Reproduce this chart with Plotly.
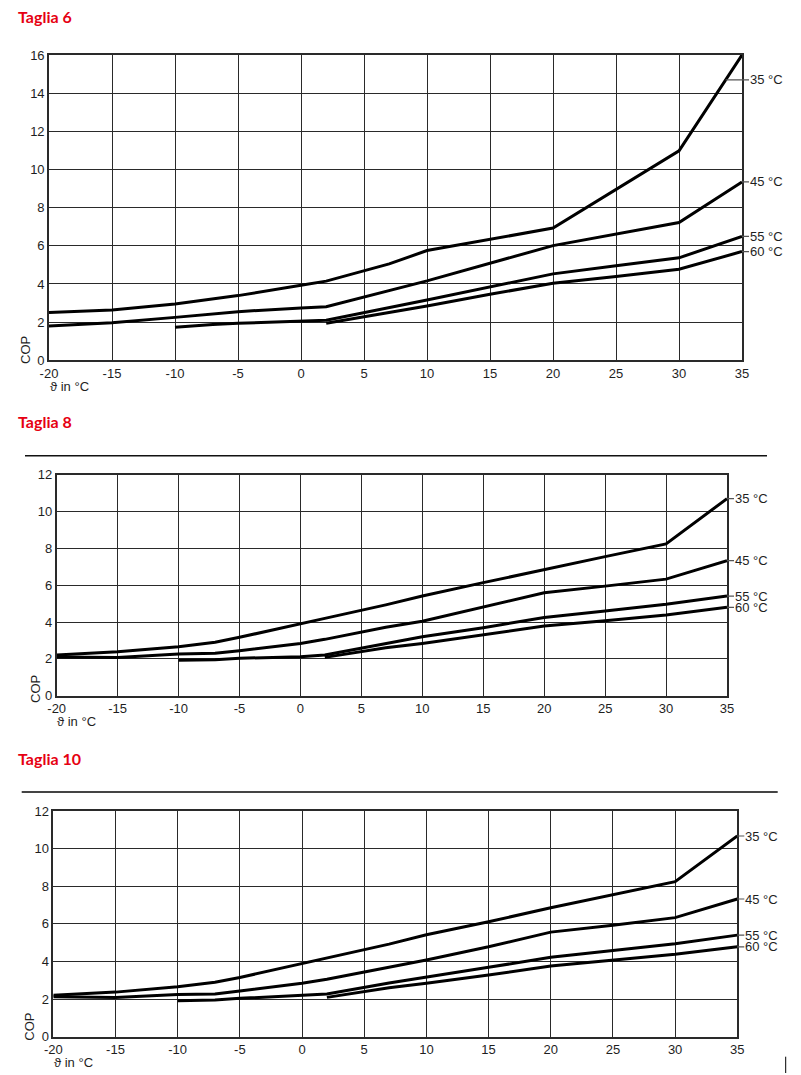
import numpy as np
import plotly.graph_objects as go

# ---------------- data ----------------
x_long = [-20, -15, -10, -7, -5, 0, 2, 7, 10, 15, 20, 25, 30, 35]
x_55 = [-10, -7, -5, 0, 2, 7, 10, 15, 20, 25, 30, 35]
x_60 = [2, 7, 10, 15, 20, 25, 30, 35]

# Taglia 6
t6_x35 = [-20, -15, -10, -7, -5, 0, 2, 7, 10, 20, 30, 35]
t6_35 = [2.5, 2.64, 2.95, 3.2, 3.39, 3.93, 4.15, 5.05, 5.75, 6.93, 10.98, 16.0]
t6_x45 = [-20, -15, -10, -7, -5, 0, 2, 10, 15, 20, 30, 35]
t6_45 = [1.8, 1.97, 2.25, 2.45, 2.55, 2.74, 2.81, 4.16, 5.09, 6.01, 7.22, 9.35]
t6_x55 = [-10, -7, -5, 0, 2, 10, 15, 20, 25, 30, 35]
t6_55 = [1.73, 1.88, 1.94, 2.05, 2.1, 3.16, 3.86, 4.53, 4.95, 5.37, 6.49]
t6_x60 = [2, 10, 15, 20, 25, 30, 35]
t6_60 = [1.94, 2.85, 3.46, 4.04, 4.39, 4.77, 5.7]

# Taglia 8
t8_35 = [2.21, 2.39, 2.66, 2.9, 3.17, 3.93, 4.2, 4.93, 5.41, 6.14, 6.86, 7.55, 8.24, 10.7]
t8_45 = [2.1, 2.08, 2.26, 2.3, 2.44, 2.84, 3.06, 3.72, 4.04, 4.8, 5.59, 5.95, 6.33, 7.33]
t8_55 = [1.92, 1.95, 2.03, 2.12, 2.21, 2.85, 3.2, 3.69, 4.25, 4.6, 4.96, 5.41]
t8_60 = [2.08, 2.6, 2.84, 3.29, 3.78, 4.07, 4.38, 4.8]

# Taglia 10
t10_35 = [2.2, 2.37, 2.66, 2.89, 3.15, 3.9, 4.18, 4.92, 5.42, 6.11, 6.86, 7.53, 8.24, 10.67]
t10_45 = [2.13, 2.08, 2.25, 2.27, 2.43, 2.84, 3.05, 3.7, 4.08, 4.78, 5.56, 5.92, 6.33, 7.32]
t10_55 = [1.91, 1.95, 2.04, 2.18, 2.27, 2.85, 3.15, 3.69, 4.22, 4.57, 4.94, 5.4]
t10_60 = [2.09, 2.6, 2.84, 3.28, 3.76, 4.08, 4.38, 4.78]

series_names = ["35 °C", "45 °C", "55 °C", "60 °C"]
titles = ["Taglia 6", "Taglia 8", "Taglia 10"]
x_label = "ϑ in °C"
y_label = "COP"
x_tickvals = [-20, -15, -10, -5, 0, 5, 10, 15, 20, 25, 30, 35]
x_ticktext = ["-20", "-15", "-10", "-5", "0", "5", "10", "15", "20", "25", "30", "35"]

charts = [
    dict(title=titles[0], xs=[t6_x35, t6_x45, t6_x55, t6_x60], ys=[t6_35, t6_45, t6_55, t6_60],
         ymax=16, px=(49, 742), py=(55, 360.3), title_y=16, xl=(47.7, 386.7), cop=(25, 350),
         label35_y=14.7),
    dict(title=titles[1], xs=[x_long, x_long, x_55, x_60], ys=[t8_35, t8_45, t8_55, t8_60],
         ymax=12, px=(56.7, 727), py=(474.7, 695.7), title_y=421.7, xl=(55, 721.7), cop=(35, 689),
         label35_y=None),
    dict(title=titles[2], xs=[x_long, x_long, x_55, x_60], ys=[t10_35, t10_45, t10_55, t10_60],
         ymax=12, px=(53.3, 737.3), py=(811, 1036.7), title_y=758, xl=(52, 1062), cop=(30, 1026.7),
         label35_y=None),
]

W, H = 801, 1075
fx = lambda p: p / W
fy = lambda p: 1 - p / H

fig = go.Figure()
FONT = "Liberation Sans, Arial, sans-serif"
INK = "#1e1e1e"
annotations = []
shapes = []
layout_axes = {}

for i, c in enumerate(charts):
    n = "" if i == 0 else str(i + 1)
    xa, ya = "x" + n, "y" + n
    for xs, ys, name in zip(c["xs"], c["ys"], series_names):
        fig.add_trace(go.Scatter(x=xs, y=ys, mode="lines", name=name, xaxis=xa, yaxis=ya,
                                 line=dict(color="#000000", width=3), showlegend=False,
                                 hoverinfo="skip"))
        # curve label with short leader
        if name == "35 °C" and c["label35_y"] is not None:
            ly = c["label35_y"]
            hx = float(np.interp(ly, ys[-2:], xs[-2:]))
            ppu = (c["px"][1] - c["px"][0]) / 55.0
            axoff = (35 - hx) * ppu + 7
        else:
            ly = ys[-1]
            hx = xs[-1]
            axoff = 7
        annotations.append(dict(x=hx, y=ly, xref=xa, yref=ya, text=name, showarrow=True,
                                arrowhead=0, arrowwidth=1.2, arrowcolor="#555555", ax=axoff, ay=0,
                                standoff=0, xanchor="left", yanchor="middle", borderpad=0,
                                font=dict(family=FONT, size=13, color=INK)))
    axis_common = dict(showgrid=True, gridcolor="#2a2a2a", gridwidth=1.3, showline=True,
                       linecolor="#2a2a2a", linewidth=1.6, mirror=True, zeroline=False,
                       ticks="", fixedrange=True, automargin=False,
                       tickfont=dict(family=FONT, size=13, color=INK))
    layout_axes["xaxis" + n] = dict(axis_common, domain=[fx(c["px"][0]), fx(c["px"][1])],
                                    range=[-20, 35], tickmode="array", tickvals=x_tickvals,
                                    ticktext=x_ticktext, anchor=ya)
    layout_axes["yaxis" + n] = dict(axis_common, domain=[fy(c["py"][1]), fy(c["py"][0])],
                                    range=[0, c["ymax"]], tick0=0, dtick=2, anchor=xa)
    annotations.append(dict(x=fx(16), y=fy(c["title_y"]), xref="paper", yref="paper",
                            text="<b>" + c["title"] + "</b>", showarrow=False, xanchor="left",
                            yanchor="middle", font=dict(family="Lato, sans-serif", size=16,
                                                        color="#e60012")))
    annotations.append(dict(x=fx(c["xl"][0]), y=fy(c["xl"][1]), xref="paper", yref="paper",
                            text=x_label, showarrow=False, xanchor="left", yanchor="middle",
                            font=dict(family=FONT, size=13, color=INK)))
    annotations.append(dict(x=fx(c["cop"][0]), y=fy(c["cop"][1]), xref="paper", yref="paper",
                            text=y_label, showarrow=False, textangle=-90, xanchor="center",
                            yanchor="middle", font=dict(family=FONT, size=13, color=INK)))

# separator rules above Taglia 8 and Taglia 10 charts
shapes.append(dict(type="line", xref="paper", yref="paper", x0=fx(25), x1=fx(767),
                   y0=fy(455.7), y1=fy(455.7), line=dict(color="#111111", width=1.5)))
shapes.append(dict(type="line", xref="paper", yref="paper", x0=fx(21.7), x1=fx(777.7),
                   y0=fy(792), y1=fy(792), line=dict(color="#444444", width=2)))
shapes.append(dict(type="line", xref="paper", yref="paper", x0=fx(785.7), x1=fx(785.7),
                   y0=fy(1056.7), y1=fy(1073), line=dict(color="#000000", width=1)))

fig.update_layout(width=W, height=H, margin=dict(l=0, r=0, t=0, b=0),
                  paper_bgcolor="white", plot_bgcolor="white",
                  annotations=annotations, shapes=shapes, **layout_axes)
fig.write_html("out.html")
